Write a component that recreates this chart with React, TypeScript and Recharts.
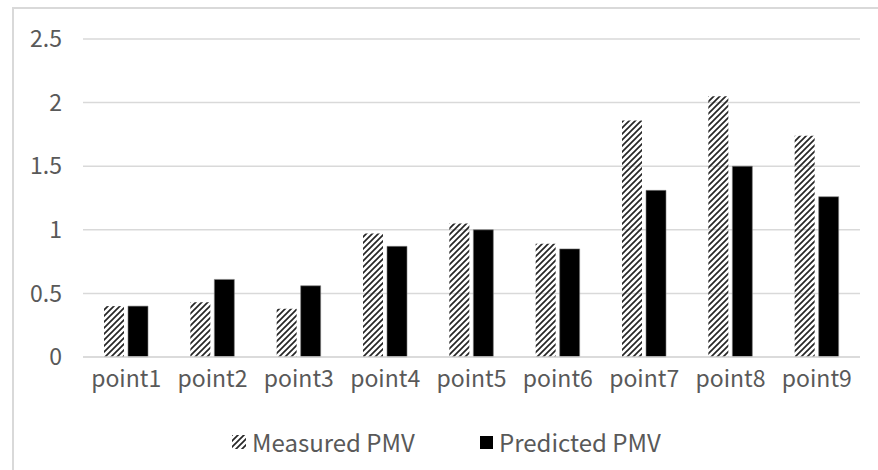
import React from 'react';
import { BarChart, Bar, XAxis, YAxis, CartesianGrid, Legend } from 'recharts';

const points = ['point1', 'point2', 'point3', 'point4', 'point5', 'point6', 'point7', 'point8', 'point9'];
const measuredPMV = [0.4, 0.43, 0.38, 0.97, 1.05, 0.89, 1.86, 2.05, 1.74];
const predictedPMV = [0.4, 0.61, 0.56, 0.87, 1.0, 0.85, 1.31, 1.5, 1.26];
const yTicks = [0, 0.5, 1, 1.5, 2, 2.5];

const FONT = '"Noto Sans CJK SC", "Noto Sans", sans-serif';
const TEXT = '#595959';

const data = points.map((name, i) => ({
  name,
  measured: measuredPMV[i],
  predicted: predictedPMV[i],
}));

// hatch swatch + label pairs under the plot
const renderLegend = () => (
  <div style={{ height: 36, position: 'relative', fontFamily: FONT, fontSize: 24, color: TEXT, lineHeight: '28px' }}>
    <div style={{ position: 'absolute', left: 232, top: -6, display: 'flex', alignItems: 'center' }}>
      <svg width={14} height={14} style={{ marginRight: 6 }}>
        <rect width={14} height={14} fill="url(#hatch)" />
      </svg>
      <span>Measured PMV</span>
    </div>
    <div style={{ position: 'absolute', left: 480, top: -6, display: 'flex', alignItems: 'center' }}>
      <svg width={13} height={13} style={{ marginRight: 6 }}>
        <rect width={13} height={13} fill="#000" />
      </svg>
      <span>Predicted PMV</span>
    </div>
  </div>
);

const App: React.FC = () => {
  return (
    <div style={{ position: 'absolute', left: 0, top: 0, width: 878, height: 470, background: '#fff', overflow: 'hidden' }}>
      <div
        style={{
          position: 'absolute',
          left: 12,
          top: 7,
          width: 880,
          height: 470,
          borderLeft: '2px solid #d9d9d9',
          borderTop: '2px solid #d9d9d9',
        }}
      />
      <svg width={0} height={0} style={{ position: 'absolute' }}>
        <defs>
          <pattern id="hatch" patternUnits="userSpaceOnUse" width={6} height={6}>
            <path
              d="M0,6 L6,0 M-1.5,1.5 L1.5,-1.5 M4.5,7.5 L7.5,4.5"
              stroke="#262626"
              strokeWidth={1.7}
            />
          </pattern>
        </defs>
      </svg>
      <BarChart
        width={878}
        height={470}
        data={data}
        margin={{ top: 39, right: 18, left: 0, bottom: 0 }}
        barSize={20}
        barGap={4}
        style={{ position: 'absolute', left: 0, top: 0 }}
      >
        <CartesianGrid vertical={false} stroke="#d9d9d9" strokeWidth={1.5} />
        <XAxis
          dataKey="name"
          height={77}
          axisLine={{ stroke: '#d9d9d9', strokeWidth: 1.5 }}
          tickLine={false}
          tickSize={0}
          tickMargin={14}
          tick={{ fill: TEXT, fontSize: 23, fontFamily: FONT }}
        />
        <YAxis
          width={83}
          domain={[0, 2.5]}
          ticks={yTicks}
          axisLine={false}
          tickLine={false}
          tickSize={0}
          tickMargin={21}
          tick={{ fill: TEXT, fontSize: 23, fontFamily: FONT }}
        />
        <Legend verticalAlign="bottom" content={renderLegend} />
        <Bar dataKey="measured" name="Measured PMV" fill="url(#hatch)" isAnimationActive={false} />
        <Bar dataKey="predicted" name="Predicted PMV" fill="#000" stroke="#7f7f7f" strokeWidth={0.6} isAnimationActive={false} />
      </BarChart>
    </div>
  );
};

export default App;
